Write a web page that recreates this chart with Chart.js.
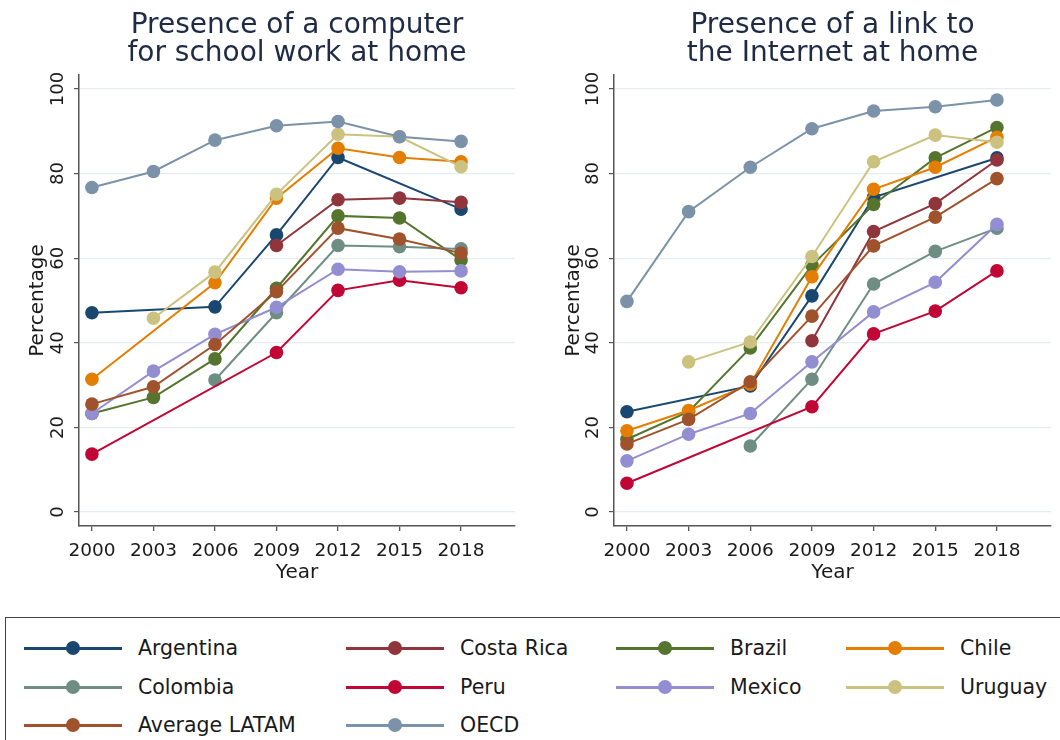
<!DOCTYPE html>
<html>
<head>
<meta charset="utf-8">
<script src="https://cdn.jsdelivr.net/npm/chart.js@4.4.1/dist/chart.umd.min.js"></script>
<style>
  body { margin: 0; background: #fff; width: 1060px; height: 740px; overflow: hidden; position: relative; font-family: "DejaVu Sans", sans-serif; }
  canvas { position: absolute; top: 0; }
  #legend { position: absolute; left: 5px; top: 617px; width: 1080px; height: 150px; border: 1.5px solid #444; box-sizing: border-box; }
  .item { position: absolute; height: 20px; display: flex; align-items: center; font-size: 20.5px; color: #1a1a1a; white-space: nowrap; }
  .sym { position: relative; width: 98px; height: 20px; margin-right: 16px; flex: none; }
  .sym .ln { position: absolute; left: 0; right: 0; top: 9px; height: 2.5px; }
  .sym .dot { position: absolute; left: 42px; top: 3px; width: 14px; height: 14px; border-radius: 50%; }
</style>
</head>
<body>
<canvas id="computerChart" width="530" height="600" style="left:0"></canvas>
<canvas id="internetChart" width="530" height="600" style="left:530px"></canvas>
<div id="legend"></div>

<script>
// ========================
//    data
// ========================
const years = [2000, 2003, 2006, 2009, 2012, 2015, 2018];
const yTicks = [0, 20, 40, 60, 80, 100];

const names = ["Argentina", "Costa Rica", "Brazil", "Chile", "Colombia", "Peru", "Mexico", "Uruguay", "Average LATAM", "OECD"];
const colors = ["#1a476f", "#90353b", "#55752f", "#e37e00", "#6e8e84", "#c10534", "#938dd2", "#cac27e", "#a0522d", "#7b92a8"];

// computer for school work (null = no survey point)
const argComp  = [47.1, null, 48.5, 65.5, 83.8, null, 71.6];
const crComp   = [null, null, null, 63.0, 73.8, 74.2, 73.2];
const braComp  = [23.3, 27.1, 36.2, 52.9, 70.0, 69.5, 59.6];
const chlComp  = [31.4, null, 54.2, 74.2, 86.0, 83.8, 82.8];
const colComp  = [null, null, 31.2, 47.1, 63.0, 62.7, 62.2];
const perComp  = [13.7, null, null, 37.7, 52.4, 54.8, 53.0];
const mexComp  = [23.3, 33.3, 42.0, 48.4, 57.4, 56.8, 57.0];
const uruComp  = [null, 45.8, 56.7, 75.1, 89.3, 88.7, 81.6];
const latComp  = [25.5, 29.6, 39.6, 52.1, 67.1, 64.5, 61.2];
const oecdComp = [76.7, 80.5, 87.9, 91.3, 92.3, 88.7, 87.6];

// link to the internet
const argNet  = [23.7, null, 29.8, 51.1, 74.4, null, 83.7];
const crNet   = [null, null, null, 40.5, 66.3, 72.9, 83.2];
const braNet  = [17.2, 23.7, 38.8, 58.3, 72.7, 83.7, 90.9];
const chlNet  = [19.2, 24.0, 30.2, 55.6, 76.3, 81.5, 88.6];
const colNet  = [null, null, 15.6, 31.4, 53.9, 61.6, 67.1];
const perNet  = [6.8, null, null, 24.9, 42.1, 47.5, 57.0];
const mexNet  = [12.1, 18.4, 23.3, 35.5, 47.3, 54.3, 68.0];
const uruNet  = [null, 35.5, 40.2, 60.4, 82.8, 89.1, 87.4];
const latNet  = [16.1, 21.9, 30.8, 46.3, 62.9, 69.7, 78.8];
const oecdNet = [49.8, 71.0, 81.5, 90.6, 94.8, 95.8, 97.4];

const compSeries = [argComp, crComp, braComp, chlComp, colComp, perComp, mexComp, uruComp, latComp, oecdComp];
const netSeries  = [argNet, crNet, braNet, chlNet, colNet, perNet, mexNet, uruNet, latNet, oecdNet];

// ========================
//    chart setup
// ========================
const FONT = '"DejaVu Sans", sans-serif';
const textColor = "#1a1a1a";
const axisColor = "#555";
const gridColor = "#e6edf0";
const titleColor = "#1f2a44";

// rotated y labels (stata style)
const yLabels = {
  id: "yLabels",
  afterDraw(chart) {
    const { ctx, scales: { y } } = chart;
    ctx.save();
    ctx.font = "18px " + FONT;
    ctx.fillStyle = textColor;
    ctx.textAlign = "center";
    ctx.textBaseline = "middle";
    yTicks.forEach(v => {
      ctx.save();
      ctx.translate(y.right - 21, y.getPixelForValue(v));
      ctx.rotate(-Math.PI / 2);
      ctx.fillText(String(v), 0, 0);
      ctx.restore();
    });
    ctx.restore();
  }
};

function makeChart(id, title, series, yAxisW, padRight, yTitlePad) {
  const n = series.length;
  return new Chart(document.getElementById(id), {
    type: "line",
    data: {
      datasets: series.map((vals, i) => ({
        label: names[i],
        data: years.map((yr, j) => ({ x: yr, y: vals[j] })).filter(p => p.y !== null),
        borderColor: colors[i],
        backgroundColor: colors[i],
        pointBackgroundColor: colors[i],
        pointBorderColor: colors[i],
        pointBorderWidth: 0,
        pointRadius: 6.8,
        borderWidth: 2,
        tension: 0,
        order: n - 1 - i
      }))
    },
    options: {
      responsive: false,
      animation: false,
      devicePixelRatio: 1,
      layout: { padding: { left: 0, right: padRight, top: 0, bottom: 0 } },
      plugins: {
        legend: { display: false },
        tooltip: { enabled: false },
        title: {
          display: true,
          text: title,
          fullSize: false,
          color: titleColor,
          font: { family: FONT, size: 28, weight: "normal", lineHeight: 1.0 },
          padding: { top: 12, bottom: 7 }
        }
      },
      scales: {
        x: {
          type: "linear",
          min: 1999.37,
          max: 2020.63,
          afterBuildTicks: s => { s.ticks = years.map(v => ({ value: v })); },
          afterFit: s => { s.height = 74; },
          ticks: { autoSkip: false, maxRotation: 0, color: textColor, padding: 9, font: { family: FONT, size: 18.5 }, callback: v => String(v) },
          grid: { drawOnChartArea: false, tickLength: 5, color: axisColor, lineWidth: 1.3 },
          border: { color: axisColor, width: 1.5 },
          title: { display: true, text: "Year", color: textColor, font: { family: FONT, size: 20 }, padding: { top: 0, bottom: 15 } }
        },
        y: {
          min: -3.3,
          max: 103.3,
          afterBuildTicks: s => { s.ticks = yTicks.map(v => ({ value: v })); },
          afterFit: s => { s.width = yAxisW; },
          ticks: { display: false },
          grid: { color: gridColor, lineWidth: 1.2, tickLength: 5, tickColor: axisColor },
          border: { color: axisColor, width: 1.5 },
          title: { display: true, text: "Percentage", color: textColor, font: { family: FONT, size: 20 }, padding: { top: yTitlePad, bottom: 0 } }
        }
      }
    },
    plugins: [yLabels]
  });
}

makeChart("computerChart", ["Presence of a computer", "for school work at home"], compSeries, 79, 15, 26);
makeChart("internetChart", ["Presence of a link to", "the Internet at home"], netSeries, 84, 9, 32);

// ========================
//    shared legend
// ========================
const legendCols = [18, 340, 610, 840];
const legendRows = [20, 59, 97];
const legend = document.getElementById("legend");
names.forEach((name, i) => {
  const item = document.createElement("div");
  item.className = "item";
  item.style.left = legendCols[i % 4] + "px";
  item.style.top = legendRows[Math.floor(i / 4)] + "px";
  item.innerHTML = '<span class="sym"><span class="ln" style="background:' + colors[i] + '"></span>' +
    '<span class="dot" style="background:' + colors[i] + '"></span></span>' + name;
  legend.appendChild(item);
});
</script>
</body>
</html>
